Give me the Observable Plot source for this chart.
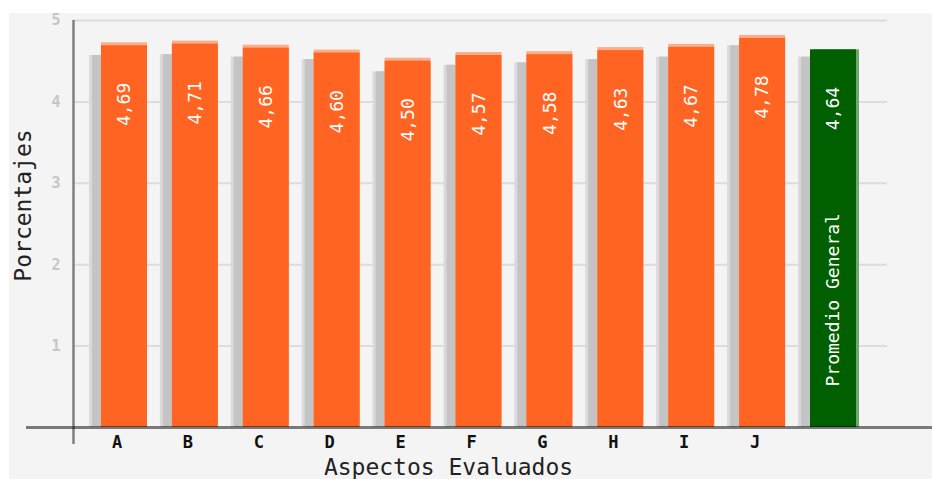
<!DOCTYPE html>
<html>
<head>
<meta charset="utf-8">
<script src="https://cdn.jsdelivr.net/npm/d3@7"></script>
<script src="https://cdn.jsdelivr.net/npm/@observablehq/plot@0.6"></script>
<style>
  html, body { margin: 0; padding: 0; background: #ffffff; }
  #wrap { position: relative; width: 932px; height: 479px; overflow: hidden; background: #ffffff; }
  #panel { position: absolute; left: 9px; top: 13px; right: 0; bottom: 0; background: #f4f4f4; }
  #chart { position: absolute; left: 0; top: 0; }
  #chart svg { display: block; }
</style>
</head>
<body>
<div id="wrap"><div id="panel"></div><div id="chart"></div></div>
<script>
// Data
const categorias = ["A", "B", "C", "D", "E", "F", "G", "H", "I", "J", "Promedio General"];
const valores    = [4.69, 4.71, 4.66, 4.60, 4.50, 4.57, 4.58, 4.63, 4.67, 4.78, 4.64];
const sombras    = [4.57, 4.58, 4.55, 4.52, 4.37, 4.45, 4.48, 4.52, 4.55, 4.69, 4.55];
const yTicks     = [1, 2, 3, 4, 5];
const promedioLabel = "Promedio General";
const tituloX = "Aspectos Evaluados";
const tituloY = "Porcentajes";

const data = categorias.map((c, i) => ({
  cat: c,
  valor: valores[i],
  sombra: sombras[i],
  etiqueta: valores[i].toFixed(2).replace(".", ","),
  promedio: c === promedioLabel
}));
const naranjas = data.filter(d => !d.promedio);
const verdes = data.filter(d => d.promedio);

const ORANGE = "#ff6422";
const ORANGE_LIGHT = "#fcad8a";
const GREEN = "#005f00";
const GREEN_LIGHT = "#6fa86f";
const SHADOW = "#c4c4c4";
const SHADOW_LIGHT = "#dadada";
const mono = "DejaVu Sans Mono";

const chart = Plot.plot({
  width: 932,
  height: 479,
  marginLeft: 73,
  marginRight: 0,
  marginTop: 20,
  marginBottom: 52,
  style: { fontFamily: mono, background: "transparent", overflow: "visible" },
  x: { type: "band", domain: categorias, range: [82.55, 862.45], padding: 0, round: false },
  y: { domain: [0, 5] },
  marks: [
    // gridlines
    Plot.ruleY(yTicks, { stroke: "#dcdcdc", strokeWidth: 2, insetRight: 45 }),
    // shadow bars
    Plot.barY(data, { x: "cat", y: "sombra", fill: SHADOW_LIGHT, insetLeft: 6.45, insetRight: 18.45 }),
    Plot.barY(data, { x: "cat", y: "sombra", fill: SHADOW, insetLeft: 9.45, insetRight: 18.45 }),
    // highlights
    Plot.barY(naranjas, { x: "cat", y: "valor", fill: ORANGE_LIGHT, insetLeft: 18.45, insetRight: 6.45, dy: -3 }),
    Plot.barY(verdes, { x: "cat", y: "valor", fill: GREEN_LIGHT, insetLeft: 18.45, insetRight: 6.45, dx: 3 }),
    // main bars
    Plot.barY(data, { x: "cat", y: "valor", fill: d => d.promedio ? GREEN : ORANGE, insetLeft: 18.45, insetRight: 6.45 }),
    // value labels
    Plot.text(data, {
      x: "cat", y: "valor", text: "etiqueta", rotate: -90, textAnchor: "end",
      dx: 6, dy: 37, fill: "#ffffff", fontSize: 18, fontFamily: mono
    }),
    Plot.text(verdes, {
      x: "cat", y: 0, text: () => promedioLabel, rotate: -90, textAnchor: "start",
      dx: 6, dy: -41, fill: "#ffffff", fontSize: 18, fontFamily: mono
    }),
    // left axis line
    Plot.ruleX([categorias[0]], { y1: 5, y2: 0, dx: -45, stroke: "#808080", strokeWidth: 2.5, insetBottom: -17 }),
    // bottom axis line
    Plot.ruleY([0], { stroke: "#000000", strokeOpacity: 0.5, strokeWidth: 3, insetLeft: -47 }),
    // axes
    Plot.axisY(yTicks, {
      tickSize: 0, tickPadding: 13, tickFormat: d => String(d), fill: "#c6c6c6", fontSize: 15, fontWeight: "bold",
      fontFamily: mono, label: null
    }),
    Plot.axisX({
      tickSize: 0, tickPadding: 8, tickFormat: d => d === promedioLabel ? "" : d,
      fill: "#111111", fontSize: 17, fontWeight: "bold", fontFamily: mono, label: null, dx: -1.5
    }),
    // axis titles
    Plot.text([tituloY], {
      frameAnchor: "left", rotate: -90, dx: -50, dy: -18.5, textAnchor: "middle",
      fontSize: 23, fill: "#222222", fontFamily: mono
    }),
    Plot.text([tituloX], {
      frameAnchor: "bottom-left", dx: 375, dy: 31, lineAnchor: "top", textAnchor: "middle",
      fontSize: 23, fill: "#222222", fontFamily: mono
    })
  ]
});

document.getElementById("chart").appendChild(chart);
</script>
</body>
</html>
